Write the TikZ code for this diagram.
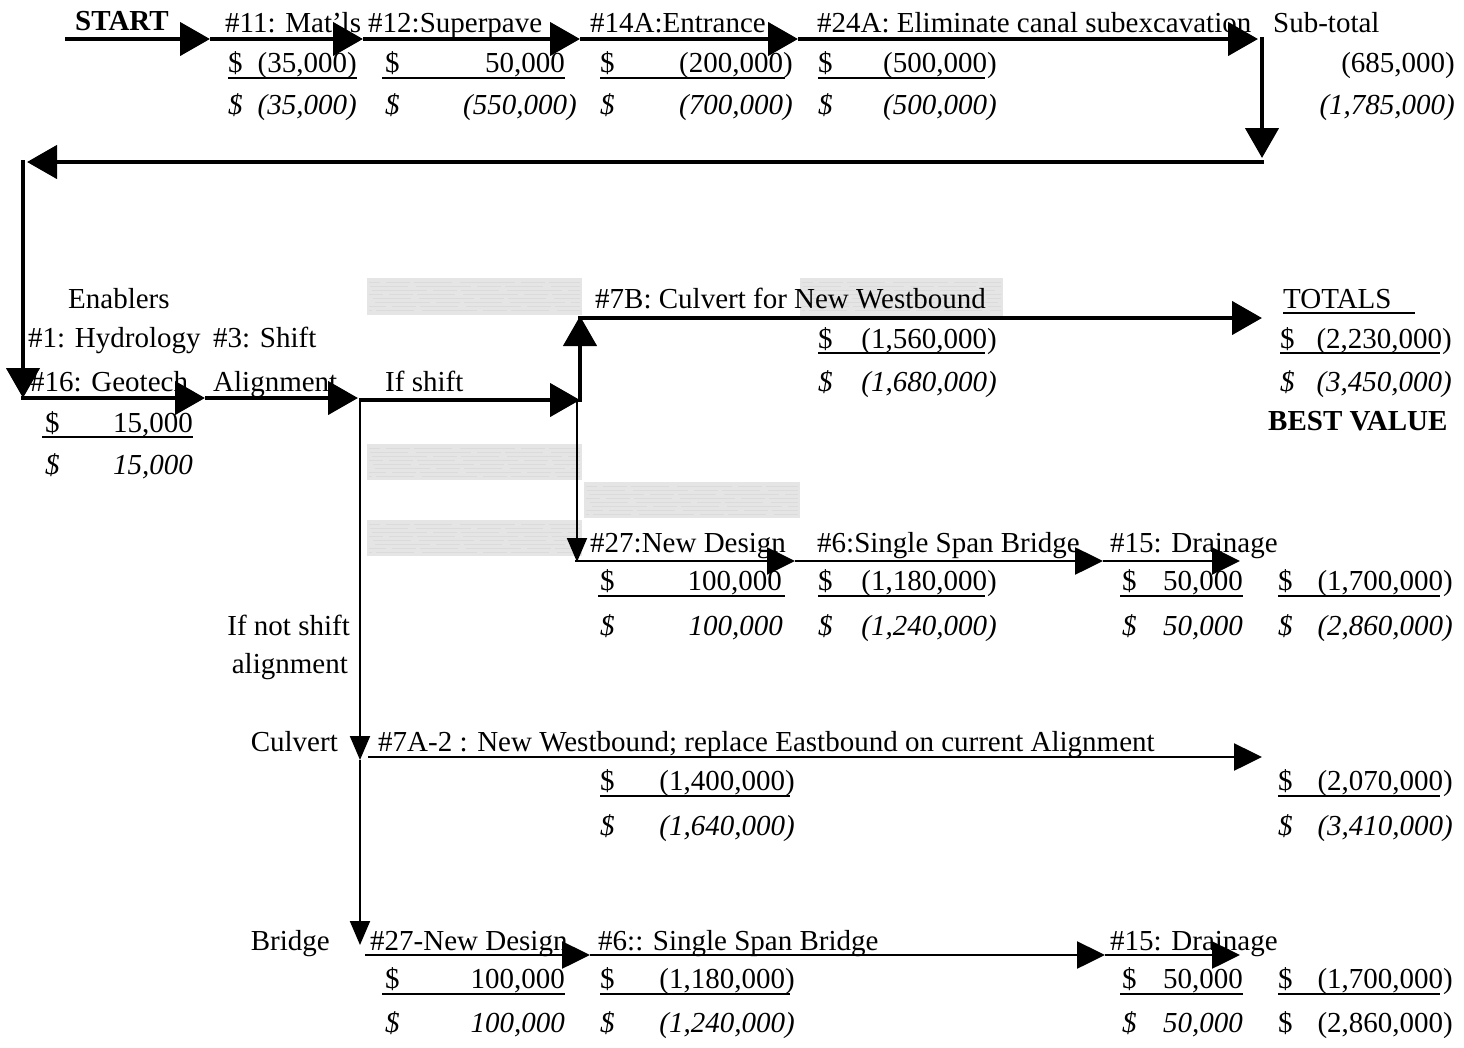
\documentclass[tikz,border=0pt]{standalone}
\usepackage{fontspec}
\setmainfont{Liberation Serif}
\usetikzlibrary{arrows.meta}
\newcommand\fs{\fontsize{29}{34}\selectfont}
% accounting cell: style, name, x-left, x-right, baseline, number
\newcommand\acc[6]{%
  \node[#1,anchor=base west] (#2d) at (#3,#5) {\$};
  \node[#1,anchor=base east] (#2n) at (#4,#5) {#6};}
\newcommand\uline[3]{\draw[ulline] (#1,#3) -- (#2,#3);}
\newcommand\graycell[4]{%
  \fill[hatch] (#1,#2) rectangle (#3,#4);
  \foreach \k in {4,8,...,33}{\draw[streak,dash phase=\k*11pt] (#1+2,#2+\k) -- (#3-2,#2+\k);}}
\begin{document}
\begin{tikzpicture}[x=1pt,y=-1pt,
  up/.style={font=\fs,inner sep=0pt},
  itl/.style={font=\fs\itshape,inner sep=0pt},
  bld/.style={font=\fs\bfseries,inner sep=0pt},
  lw/.style={up,anchor=base west},
  le/.style={up,anchor=base east},
  ulline/.style={line width=2.5pt},
  bigarr/.style={line width=4.5pt,-{Triangle[length=30pt,width=33pt]}},
  smarr/.style={line width=2.5pt,-{Triangle[length=28pt,width=27pt]}},
  vtarr/.style={line width=2pt,-{Triangle[length=24pt,width=20pt]}},
  hatch/.style={fill=black!10,draw=none},
  streak/.style={draw=black!14,line width=0.5pt,dash pattern=on 55pt off 6pt on 24pt off 4pt on 38pt off 8pt}]
\useasboundingbox (0,0) rectangle (1464,1047);
% gray shaded cells
\graycell{367}{278}{582}{315}
\graycell{800}{278}{1003}{316}
\graycell{367}{444}{582}{480}
\graycell{584}{482}{800}{518}
\graycell{367}{520}{582}{556}

% ---------- top row ----------
\node[bld,anchor=base west] (start) at (75,30) {START};
\node[lw] (n11) at (225,32) {\#11: Mat'ls};
\node[lw] (n12) at (368,32) {\#12:Superpave};
\node[lw] (n14) at (590,32) {\#14A:Entrance};
\node[lw] (n24) at (817,32) {\#24A: Eliminate canal subexcavation};
\node[lw] (sub) at (1273,32) {Sub-total};
\acc{up}{r2a}{228}{357}{72}{(35,000)}
\acc{up}{r2b}{385}{565}{72}{50,000}
\acc{up}{r2c}{600}{793}{72}{(200,000)}
\acc{up}{r2d}{818}{997}{72}{(500,000)}
\node[le] (r2e) at (1455,72) {(685,000)};
\uline{228}{357}{78}\uline{382}{565}{78}\uline{600}{785}{78}\uline{818}{985}{78}
\acc{itl}{r3a}{228}{357}{114}{(35,000)}
\acc{itl}{r3b}{385}{577}{114}{(550,000)}
\acc{itl}{r3c}{600}{793}{114}{(700,000)}
\acc{itl}{r3d}{818}{997}{114}{(500,000)}
\node[itl,anchor=base east] (r3e) at (1455,114) {(1,785,000)};

\coordinate (s0) at (65,39);
\coordinate (a1) at (210,39);
\coordinate (a2) at (363,39);
\coordinate (a3) at (580,39);
\coordinate (a4) at (798,39);
\coordinate (a5) at (1258,39);
\coordinate (c1) at (1262,37);
\coordinate (c2) at (1262,158);
\coordinate (c3) at (1264,162);
\coordinate (c4) at (27,162);
\coordinate (c5) at (23,160);
\coordinate (c6) at (23,398);
\draw[bigarr] (s0) -- (a1);
\draw[bigarr] (a1) -- (a2);
\draw[bigarr] (a2) -- (a3);
\draw[bigarr] (a3) -- (a4);
\draw[bigarr] (a4) -- (a5);
\draw[bigarr] (c1) -- (c2);
\draw[bigarr] (c3) -- (c4);
\draw[bigarr] (c5) -- (c6);

% ---------- middle ----------
\node[lw] (ena) at (68,308) {Enablers};
\node[lw] (hyd) at (28,347) {\#1: Hydrology};
\node[lw] (shf) at (213,347) {\#3: Shift};
\node[lw] (geo) at (30,391) {\#16: Geotech};
\node[lw] (ali) at (213,391) {Alignment};
\node[lw] (ifs) at (385,391) {If shift};
\acc{up}{m1}{45}{193}{432}{15,000}
\uline{42}{193}{437}
\acc{itl}{m2}{45}{193}{474}{15,000}
\node[lw] (n7b) at (595,308) {\#7B: Culvert for New Westbound};
\acc{up}{m3}{818}{997}{348}{(1,560,000)}
\uline{818}{985}{353}
\acc{itl}{m4}{818}{997}{391}{(1,680,000)}
\node[lw] (tot) at (1283,308) {TOTALS};
\uline{1283}{1415}{313}
\acc{up}{m5}{1280}{1452}{348}{(2,230,000)}
\uline{1280}{1440}{353}
\acc{itl}{m6}{1280}{1452}{391}{(3,450,000)}
\node[bld,anchor=base west] (best) at (1268,430) {BEST VALUE};

\coordinate (m0) at (21,398);
\coordinate (p1) at (205,398);
\coordinate (p2) at (358,398);
\coordinate (p3) at (360,400);
\coordinate (p4) at (580,400);
\coordinate (p5) at (580,402);
\coordinate (p6) at (580,316);
\coordinate (p7) at (578,318);
\coordinate (p8) at (1262,318);
\draw[bigarr] (m0) -- (p1);
\draw[bigarr] (p1) -- (p2);
\draw[bigarr] (p3) -- (p4);
\draw[bigarr] (p5) -- (p6);
\draw[bigarr] (p7) -- (p8);

% ---------- shift branch ----------
\node[lw] (n27) at (590,552) {\#27:New Design};
\node[lw] (n6) at (817,552) {\#6:Single Span Bridge};
\node[lw] (n15) at (1110,552) {\#15: Drainage};
\acc{up}{s1}{600}{782}{590}{100,000}
\acc{up}{s2}{818}{997}{590}{(1,180,000)}
\acc{up}{s3}{1122}{1243}{590}{50,000}
\acc{up}{s4}{1278}{1453}{590}{(1,700,000)}
\uline{598}{785}{596}\uline{818}{985}{596}\uline{1120}{1243}{596}\uline{1278}{1440}{596}
\acc{itl}{s5}{600}{783}{635}{100,000}
\acc{itl}{s6}{818}{997}{635}{(1,240,000)}
\acc{itl}{s7}{1122}{1243}{635}{50,000}
\acc{itl}{s8}{1278}{1453}{635}{(2,860,000)}

\coordinate (v0) at (577,400);
\coordinate (v1) at (577,562);
\coordinate (h0) at (575,561);
\coordinate (h1) at (795,561);
\coordinate (h2) at (1103,561);
\coordinate (h3) at (1240,561);
\draw[vtarr] (v0) -- (v1);
\draw[smarr] (h0) -- (h1);
\draw[smarr] (h1) -- (h2);
\draw[smarr] (h2) -- (h3);

% ---------- not shift branch ----------
\node[le] (ns1) at (350,635) {If not shift};
\node[le] (ns2) at (348,673) {alignment};
\node[le] (cul) at (338,751) {Culvert};
\node[lw] (n7a) at (378,751) {\#7A-2 : New Westbound; replace Eastbound on current Alignment};
\acc{up}{c1}{600}{795}{790}{(1,400,000)}
\acc{up}{c2}{1278}{1453}{790}{(2,070,000)}
\uline{600}{790}{796}\uline{1278}{1440}{796}
\acc{itl}{c3}{600}{795}{835}{(1,640,000)}
\acc{itl}{c4}{1278}{1453}{835}{(3,410,000)}

\node[le] (brg) at (330,950) {Bridge};
\node[lw] (b27) at (370,950) {\#27-New Design};
\node[lw] (b6) at (598,950) {\#6:: Single Span Bridge};
\node[lw] (b15) at (1110,950) {\#15: Drainage};
\acc{up}{b1}{385}{565}{988}{100,000}
\acc{up}{b2}{600}{795}{988}{(1,180,000)}
\acc{up}{b3}{1122}{1243}{988}{50,000}
\acc{up}{b4}{1278}{1453}{988}{(1,700,000)}
\uline{382}{565}{994}\uline{600}{790}{994}\uline{1120}{1243}{994}\uline{1278}{1440}{994}
\acc{itl}{b5}{385}{565}{1032}{100,000}
\acc{itl}{b6}{600}{795}{1032}{(1,240,000)}
\acc{itl}{b7}{1122}{1243}{1032}{50,000}
\acc{up}{b8}{1278}{1453}{1032}{(2,860,000)}

\coordinate (w0) at (360,398);
\coordinate (w1) at (360,760);
\coordinate (w2) at (360,945);
\coordinate (w3) at (368,757);
\coordinate (w4) at (1262,757);
\coordinate (w5) at (365,955);
\coordinate (w6) at (590,955);
\coordinate (w7) at (1105,955);
\coordinate (w8) at (1240,955);
\draw[vtarr] (w0) -- (w1);
\draw[vtarr] (w1) -- (w2);
\draw[smarr] (w3) -- (w4);
\draw[smarr] (w5) -- (w6);
\draw[smarr] (w6) -- (w7);
\draw[smarr] (w7) -- (w8);
\end{tikzpicture}
\end{document}
